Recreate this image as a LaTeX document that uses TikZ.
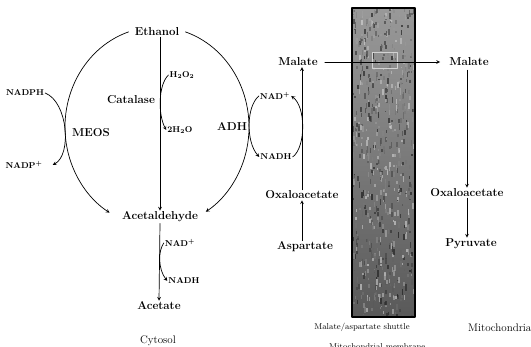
\documentclass[tikz,border=0pt]{standalone}
\usepackage{fontspec}
\usetikzlibrary{calc}
\begin{document}
\begin{tikzpicture}[x=1pt, y=1pt, line join=round, line cap=round, >=stealth,
	met/.style={font=\fontsize{11.5}{13}\selectfont\bfseries, inner sep=1pt},
	cof/.style={font=\fontsize{8.5}{10}\selectfont\bfseries, inner sep=1pt},
	region/.style={font=\fontsize{11}{13}\selectfont, inner sep=1pt},
	link/.style={line width=.7pt}]
	\useasboundingbox (0,0) rectangle (531,347);
	% shuttle band
	\begin{scope}
		\clip (352,30) rectangle (415,339);
		\shade[top color=black!40, bottom color=black!65] (352,30) rectangle (415,339);
		\pgfmathsetseed{7}
		\foreach \i in {1,...,700}{
			\pgfmathsetmacro\xx{352+63*rnd}
			\pgfmathsetmacro\yy{28+312*rnd}
			\pgfmathsetmacro\ll{1.5+5*rnd}
			\pgfmathtruncatemacro\gg{15+80*rnd}
			\fill[black!\gg, opacity=.6] (\xx,\yy) rectangle ++(1.6,\ll);
		}
	\end{scope}
	\draw[line width=1.6pt] (352,30) rectangle (415,339);
	\draw[gray!35, line width=.4pt] (372,279) rectangle (397,295);
	\path
	(157,220) coordinate (ring)
	;
	\node[met] (eth) at (157,315) {Ethanol};
	\node[met] (ald) at (160,130) {Acetaldehyde};
	\node[met] (ace) at (159,41) {Acetate};
	\node[met] (meos) at (91,214) {MEOS};
	\node[met] (cat) at (131,247) {Catalase};
	\node[met] (adh) at (232,221) {ADH};
	\node[met] (mal) at (298,285) {Malate};
	\node[met] (oaa) at (302,152) {Oxaloacetate};
	\node[met] (asp) at (305,100) {Aspartate};
	\node[met] (malm) at (469,285) {Malate};
	\node[met] (oaam) at (467,154) {Oxaloacetate};
	\node[met] (pyr) at (471,103) {Pyruvate};
	\node[cof] (nadph) at (25,254) {NADPH};
	\node[cof] (nadp) at (24,182) {NADP\textsuperscript{+}};
	\node[cof] (hoo) at (182,272) {H\textsubscript{2}O\textsubscript{2}};
	\node[cof] (hho) at (180,217) {2H\textsubscript{2}O};
	\node[cof] (nad1) at (275,251) {NAD\textsuperscript{+}};
	\node[cof] (nadh1) at (276,190) {NADH};
	\node[cof] (nad2) at (180,104) {NAD\textsuperscript{+}};
	\node[cof] (nadh2) at (184,66) {NADH};
	\node[region] (cyt) at (158,6) {Cytosol};
	\node[region, font=\fontsize{8.5}{10}\selectfont] (shut) at (362,20) {Malate/aspartate shuttle};
	\node[region, anchor=west] (mito) at (467,19) {Mitochondria};
	\node[region, anchor=north west, font=\fontsize{8.5}{10}\selectfont] (memb) at (328,4.5) {Mitochondrial membrane};
	\begin{scope}[link]
		\draw[->] (ring) ++(108:92 and 100) arc[start angle=108, end angle=239, x radius=92, y radius=100];
		\draw[->] (ring) ++(72:92 and 100) arc[start angle=72, end angle=-58, x radius=92, y radius=100];
		\draw[->] (eth.south -| ald.north) -- (ald.north);
		\draw[->] (hoo.west) .. controls (158,262) and (158,232) .. (hho.west);
		\draw[->] (nadph.east) .. controls (68,245) and (72,192) .. ([xshift=9pt]nadp.east);
		\draw[->] (nad1.west) .. controls (246,240) and (246,205) .. (nadh1.west);
		\draw[->] (nadh1.east) .. controls (306,200) and (306,240) .. (nad1.east);
		\draw[->] (ald.south) -- (ace.north);
		\draw[->] (nad2.west) .. controls (158,96) and (158,78) .. (nadh2.west);
		\draw[->] (asp.north -| oaa) -- (oaa.south);
		\draw[->] (oaa.north) -- (oaa.north |- mal.south);
		\draw[->, shorten <=6pt, shorten >=8pt] (mal.east) -- (malm.west);
		\draw[->, shorten <=3pt] (malm.south -| oaam) -- (oaam.north);
		\draw[->] (oaam.south) -- (oaam.south |- pyr.north);
	\end{scope}
\end{tikzpicture}
\end{document}
